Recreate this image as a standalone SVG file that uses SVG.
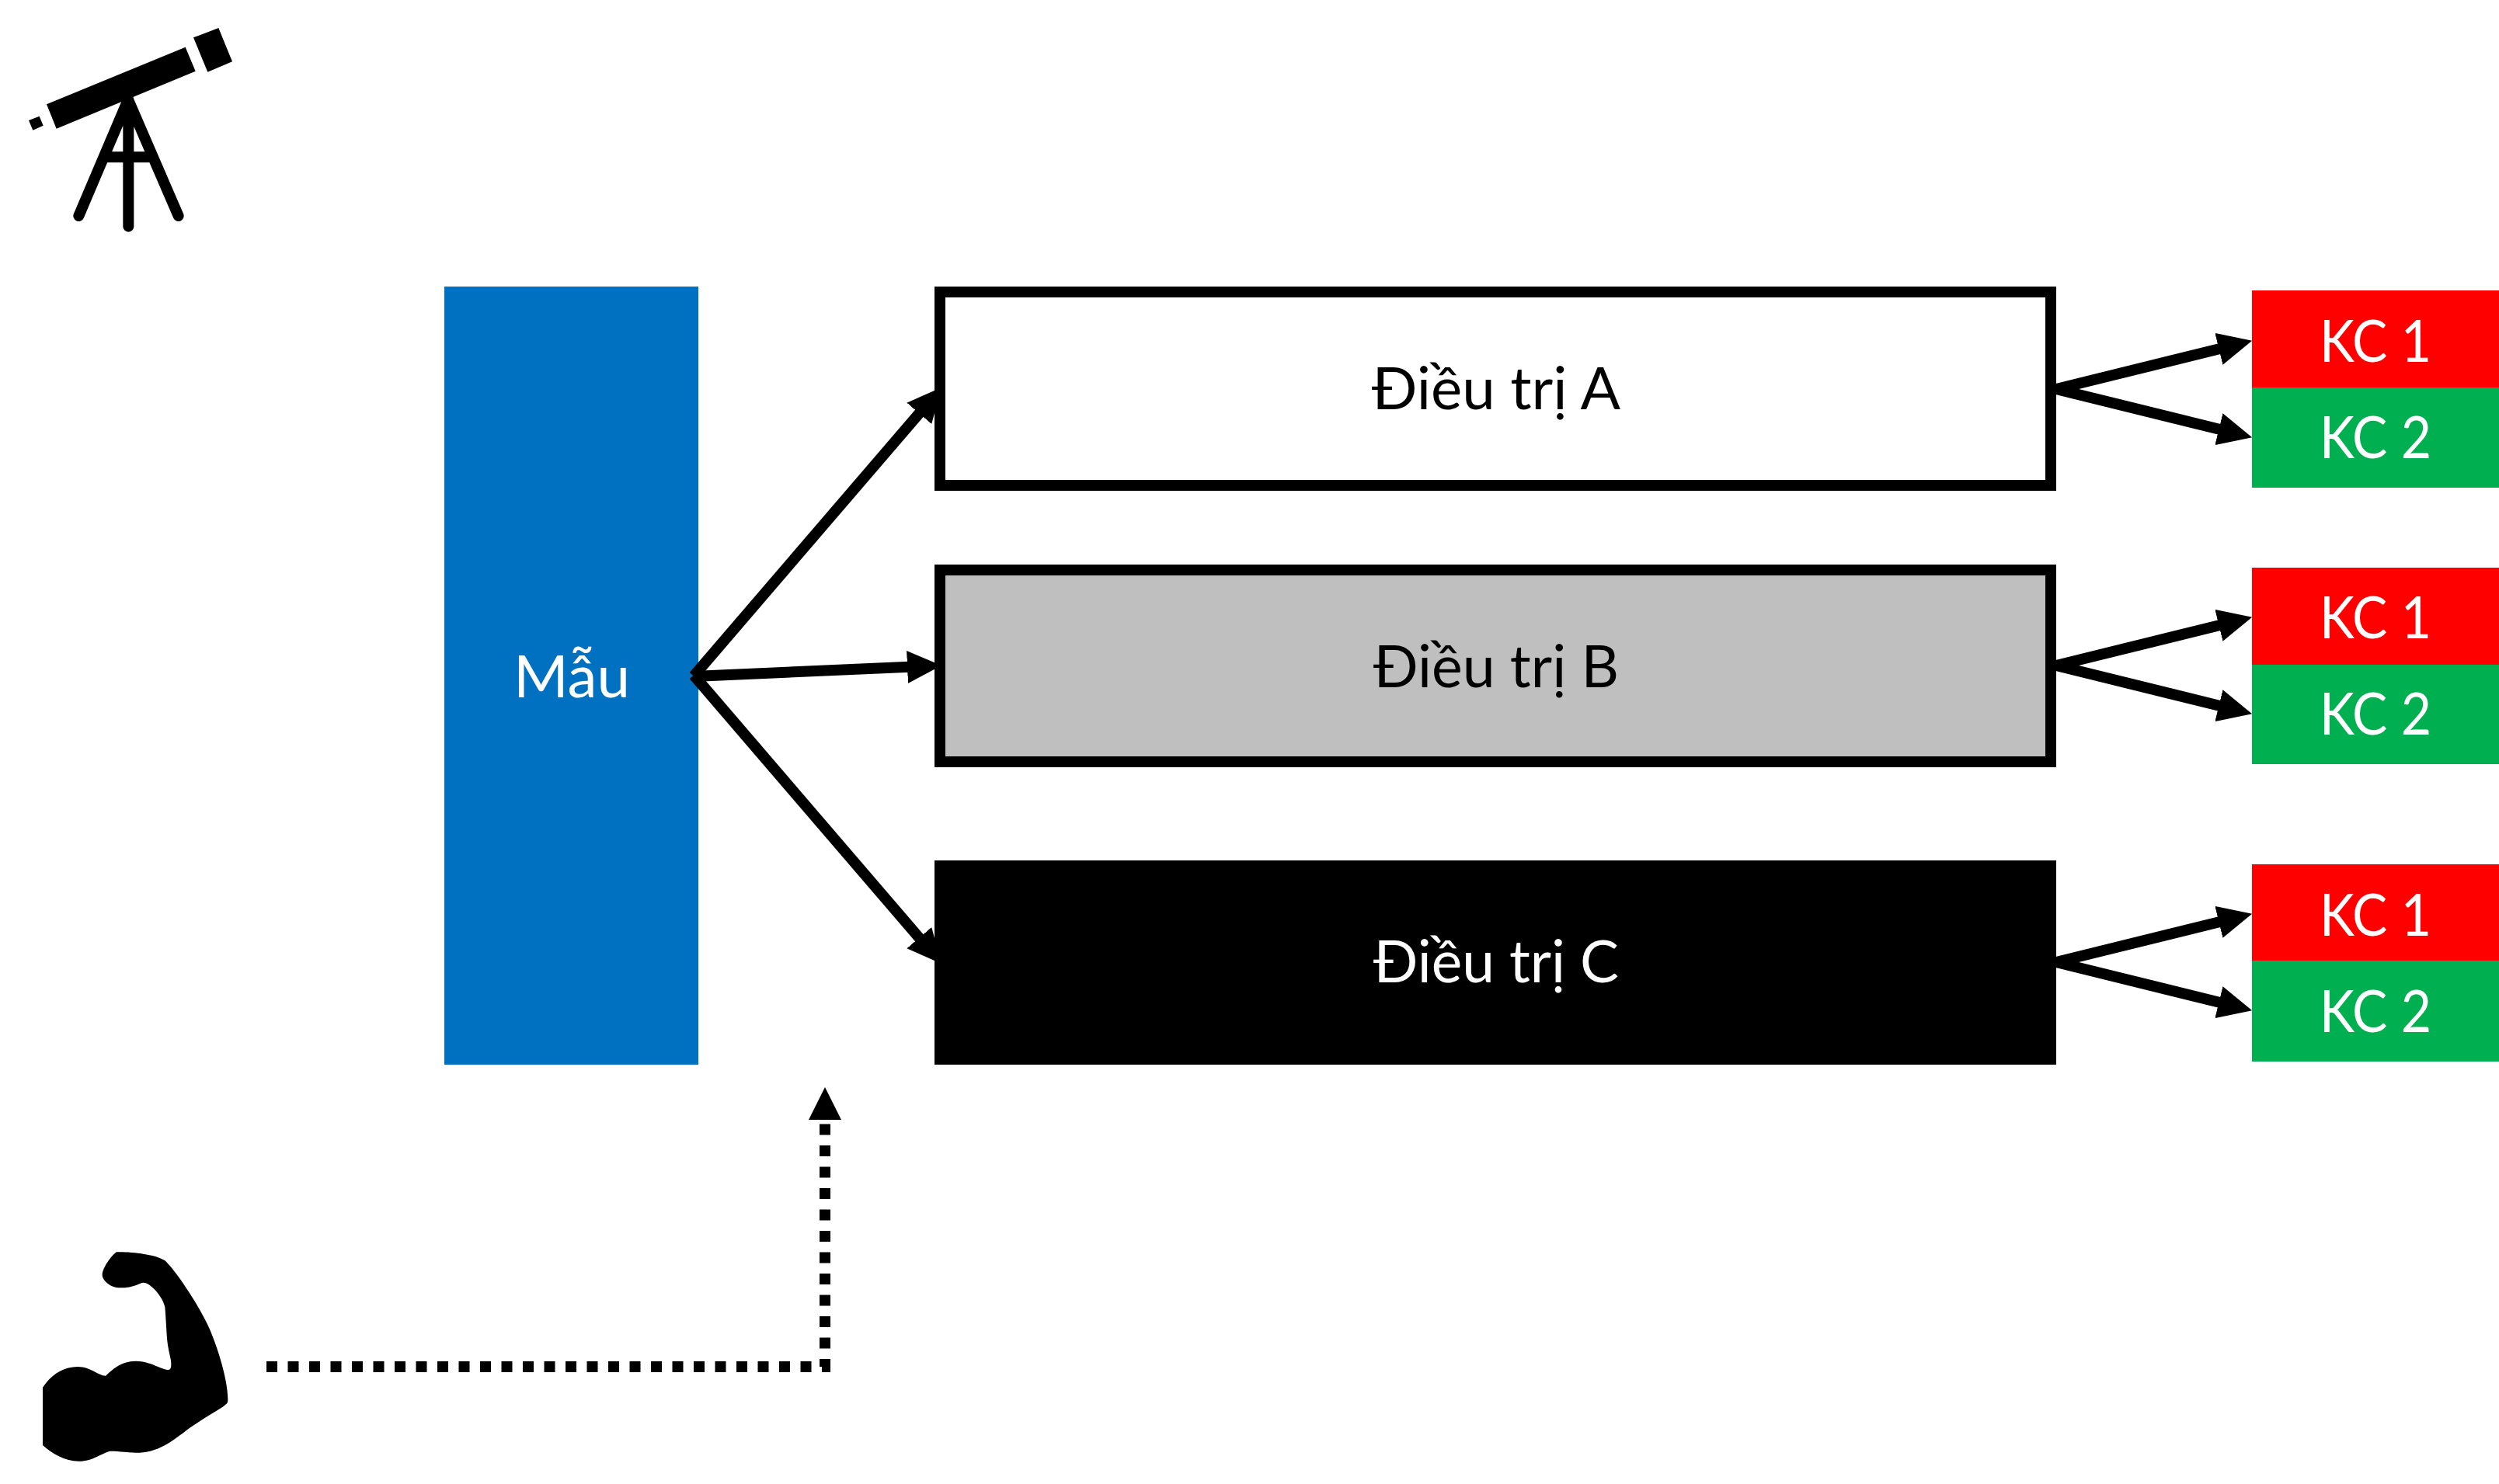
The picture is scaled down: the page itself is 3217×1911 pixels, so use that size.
<svg xmlns="http://www.w3.org/2000/svg" width="3217" height="1911" viewBox="0 0 3217 1911">
<style>
text{font-family:"Lato","Noto Sans","Liberation Sans",sans-serif;font-size:76px;text-anchor:middle}
.w{fill:#fff}.k{fill:#000}
.frame{stroke:#000;stroke-width:14}
.a1{stroke:#000;stroke-width:14;fill:none;marker-end:url(#h2)}
.a2{stroke:#000;stroke-width:14;fill:none;marker-end:url(#h2)}
.red{fill:#f00}.green{fill:#00b050}
</style>
<defs>
<marker id="h2" markerUnits="userSpaceOnUse" viewBox="0 0 44 42" refX="14" refY="21" markerWidth="44" markerHeight="42" orient="auto"><path d="M0 0L44 21L0 42Z"/></marker>
</defs>
<rect width="3217" height="1911" fill="#fff"/>
<g id="telescope">
<g transform="scale(.33333)">
<path d="M180 403L716 182L755 275L218 497ZM747 145L844 108L897 238L802 278ZM111 465L152 449L167 485L127 503Z"/>
<path d="M495 385L304 834M495 385L689 834M496 385V875M405 607H590" fill="none" stroke="#000" stroke-width="42" stroke-linecap="round"/>
</g>
</g>
<g id="arm">
<path transform="translate(0 1580) scale(.33333)" d="M165 620C195 575 240 540 300 540C350 540 380 575 408 575C430 555 465 518 525 518C580 518 625 552 650 552C662 552 662 535 660 515C655 490 648 465 645 430C642 390 640 340 637 310C630 270 580 215 555 215C540 215 520 235 465 235C425 235 395 205 395 185C395 160 430 110 450 97C500 95 600 105 637 130C680 170 770 305 810 395C850 490 880 600 880 670C880 680 875 685 860 695C820 720 770 750 735 775C680 815 620 870 540 872C500 872 450 865 425 866C395 872 360 905 305 905C250 905 200 875 165 843Z"/>
</g>
<g id="mau"><rect x="572" y="369" width="327" height="1002" fill="#0070c0"/><text class="w" x="736" y="898" textLength="150" lengthAdjust="spacingAndGlyphs">Mẫu</text></g>
<g id="dieu-tri-a"><rect class="frame" x="1210" y="376" width="1430" height="249" fill="#fff"/><text class="k" x="1926" y="527" textLength="320" lengthAdjust="spacingAndGlyphs">Điều trị A</text></g>
<g id="dieu-tri-b"><rect class="frame" x="1210" y="734" width="1430" height="247" fill="#bfbfbf"/><text class="k" x="1926" y="885" textLength="316" lengthAdjust="spacingAndGlyphs">Điều trị B</text></g>
<g id="dieu-tri-c"><rect x="1203" y="1108" width="1444" height="263" fill="#000"/><text class="w" x="1926" y="1265" textLength="316" lengthAdjust="spacingAndGlyphs">Điều trị C</text></g>
<g id="kc-a1"><rect class="red" x="2899" y="374" width="318" height="125"/><text class="w" x="3058" y="466" textLength="144" lengthAdjust="spacingAndGlyphs">KC 1</text></g>
<g id="kc-a2"><rect class="green" x="2899" y="499" width="318" height="129"/><text class="w" x="3058" y="590" textLength="144" lengthAdjust="spacingAndGlyphs">KC 2</text></g>
<g id="kc-b1"><rect class="red" x="2899" y="731" width="318" height="125"/><text class="w" x="3058" y="822" textLength="144" lengthAdjust="spacingAndGlyphs">KC 1</text></g>
<g id="kc-b2"><rect class="green" x="2899" y="856" width="318" height="128"/><text class="w" x="3058" y="946" textLength="144" lengthAdjust="spacingAndGlyphs">KC 2</text></g>
<g id="kc-c1"><rect class="red" x="2899" y="1113" width="318" height="124"/><text class="w" x="3058" y="1205" textLength="144" lengthAdjust="spacingAndGlyphs">KC 1</text></g>
<g id="kc-c2"><rect class="green" x="2899" y="1237" width="318" height="130"/><text class="w" x="3058" y="1329" textLength="144" lengthAdjust="spacingAndGlyphs">KC 2</text></g>
<g id="connectors">
<path class="a1" d="M893 870.6L1192.4 521.7"/>
<path class="a2" d="M893 871L1182 858.3"/>
<path class="a1" d="M893 869.4L1192.4 1218.3"/>
<path class="a2" d="M2647 501L2870 446"/>
<path class="a2" d="M2647 501L2870 556"/>
<path class="a2" d="M2647 857L2870 802"/>
<path class="a2" d="M2647 857L2870 912"/>
<path class="a2" d="M2647 1239L2870 1184"/>
<path class="a2" d="M2647 1239L2870 1294"/>
<path d="M343 1760H1062V1447" fill="none" stroke="#000" stroke-width="14" stroke-dasharray="14 13.5"/>
<path d="M1062 1400L1083 1442H1041Z"/>
</g>
</svg>
